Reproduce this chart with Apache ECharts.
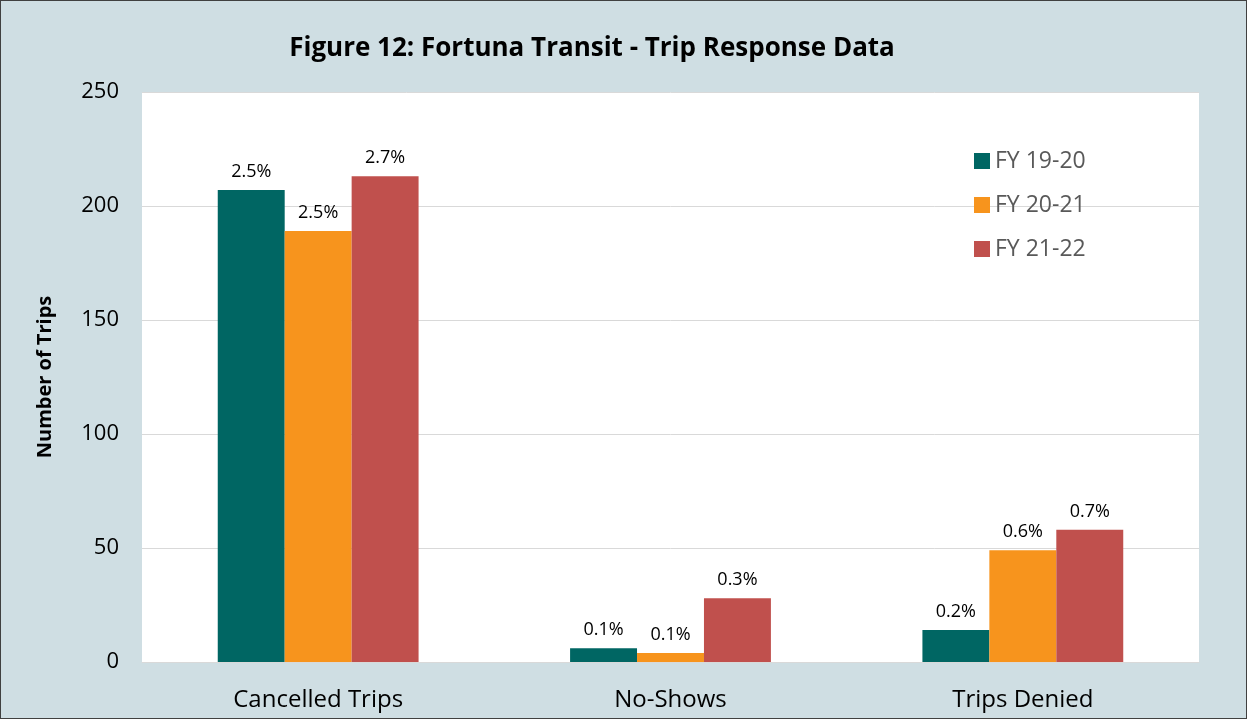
<!DOCTYPE html>
<html>
<head>
<meta charset="utf-8">
<script src="https://cdn.jsdelivr.net/npm/echarts@6/dist/echarts.min.js"></script>
<style>
html,body{margin:0;padding:0;background:#cfdee3;}
#c{width:1247px;height:719px;box-sizing:border-box;border:1px solid #404040;}
</style>
</head>
<body>
<div id="c"></div>
<script>
const categories = ["Cancelled Trips", "No-Shows", "Trips Denied"];
const seriesNames = ["FY 19-20", "FY 20-21", "FY 21-22"];
const fy1920 = [207, 6, 14];
const fy2021 = [189, 4, 49];
const fy2122 = [213, 28, 58];
const pct1920 = ["2.5%", "0.1%", "0.2%"];
const pct2021 = ["2.5%", "0.1%", "0.6%"];
const pct2122 = ["2.7%", "0.3%", "0.7%"];
const colors = ["#006663", "#f7941d", "#c0504d"];

const FONT = "Open Sans";
const chart = echarts.init(document.getElementById('c'));
function mk(name, data, pct, color) {
  return {
    name: name, type: 'bar', data: data,
    barGap: '0%', barCategoryGap: '43%',
    itemStyle: {color: color},
    label: {show: true, position: 'top', distance: 9, color: '#000', fontSize: 18, fontFamily: FONT,
      formatter: p => pct[p.dataIndex]}
  };
}
chart.setOption({
  backgroundColor: '#cfdee3',
  animation: false,
  title: {text: 'Figure 12: Fortuna Transit - Trip Response Data', left: 586, textAlign: 'center', top: 30,
    textStyle: {fontFamily: FONT, fontWeight: 'bold', fontSize: 26, color: '#000'}},
  legend: {orient: 'vertical', left: 968, top: 140, itemWidth: 16, itemHeight: 16, itemGap: 14,
    icon: 'rect', textStyle: {fontFamily: FONT, fontSize: 23, color: '#595959', lineHeight: 30}, data: seriesNames},
  grid: {left: 141, right: 47, top: 91, bottom: 56, backgroundColor: '#fff', show: true, borderWidth: 0},
  xAxis: {type: 'category', data: categories,
    axisLine: {lineStyle: {color: '#d9d9d9'}}, axisTick: {show: false},
    axisLabel: {fontFamily: FONT, fontSize: 24, color: '#000', margin: 26}},
  yAxis: {type: 'value', min: 0, max: 250, interval: 50,
    name: 'Number of Trips', nameLocation: 'middle', nameGap: 87, nameRotate: 90,
    nameTextStyle: {fontFamily: FONT, fontWeight: 'bold', fontSize: 20, color: '#000'},
    axisLine: {show: false}, axisTick: {show: false},
    splitLine: {lineStyle: {color: '#d9d9d9'}},
    axisLabel: {fontFamily: FONT, fontSize: 22, color: '#000', margin: 23}},
  series: [mk(seriesNames[0], fy1920, pct1920, colors[0]), mk(seriesNames[1], fy2021, pct2021, colors[1]), mk(seriesNames[2], fy2122, pct2122, colors[2])]
});
</script>
</body>
</html>
